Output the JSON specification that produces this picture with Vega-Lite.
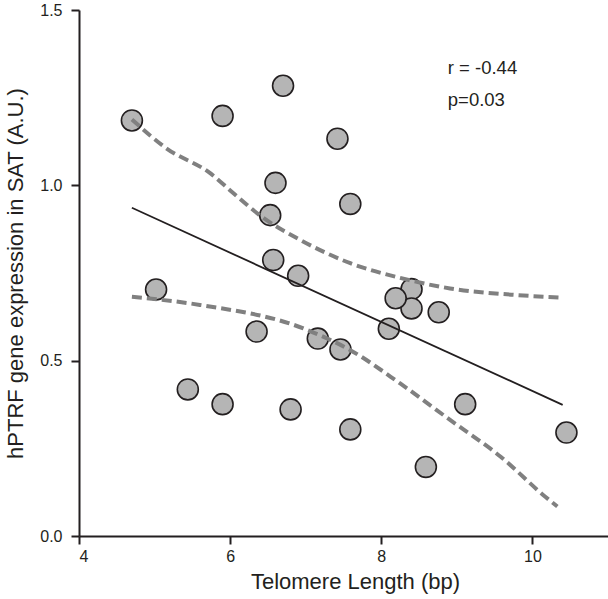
{
  "$schema": "https://vega.github.io/schema/vega-lite/v6.json",
  "width": 529,
  "height": 526,
  "autosize": {"type": "none"},
  "padding": {"left": 79, "top": 10, "right": 0, "bottom": 63},
  "background": "white",
  "config": {
    "view": {"stroke": null}
  },
  "datasets": {
    "points": [
      {"telomere": 4.70, "ptrf": 1.185},
      {"telomere": 5.90, "ptrf": 1.198},
      {"telomere": 6.70, "ptrf": 1.284},
      {"telomere": 7.42, "ptrf": 1.133},
      {"telomere": 6.60, "ptrf": 1.007},
      {"telomere": 6.53, "ptrf": 0.915},
      {"telomere": 7.59, "ptrf": 0.947},
      {"telomere": 6.57, "ptrf": 0.787},
      {"telomere": 6.90, "ptrf": 0.742},
      {"telomere": 5.02, "ptrf": 0.703},
      {"telomere": 8.40, "ptrf": 0.704},
      {"telomere": 8.40, "ptrf": 0.649},
      {"telomere": 8.19, "ptrf": 0.678},
      {"telomere": 8.76, "ptrf": 0.638},
      {"telomere": 8.10, "ptrf": 0.591},
      {"telomere": 7.16, "ptrf": 0.563},
      {"telomere": 7.46, "ptrf": 0.532},
      {"telomere": 6.35, "ptrf": 0.583},
      {"telomere": 5.44, "ptrf": 0.418},
      {"telomere": 5.90, "ptrf": 0.376},
      {"telomere": 6.80, "ptrf": 0.361},
      {"telomere": 9.11, "ptrf": 0.376},
      {"telomere": 7.59, "ptrf": 0.304},
      {"telomere": 8.59, "ptrf": 0.197},
      {"telomere": 10.45, "ptrf": 0.295}
    ],
    "ci": [
      {"band": "upper", "telomere": 4.70, "ptrf": 1.188},
      {"band": "upper", "telomere": 5.16, "ptrf": 1.105},
      {"band": "upper", "telomere": 5.74, "ptrf": 1.034},
      {"band": "upper", "telomere": 6.04, "ptrf": 0.978},
      {"band": "upper", "telomere": 6.44, "ptrf": 0.907},
      {"band": "upper", "telomere": 6.93, "ptrf": 0.844},
      {"band": "upper", "telomere": 7.59, "ptrf": 0.778},
      {"band": "upper", "telomere": 8.25, "ptrf": 0.736},
      {"band": "upper", "telomere": 8.91, "ptrf": 0.706},
      {"band": "upper", "telomere": 9.80, "ptrf": 0.687},
      {"band": "upper", "telomere": 10.39, "ptrf": 0.680},
      {"band": "lower", "telomere": 4.70, "ptrf": 0.682},
      {"band": "lower", "telomere": 5.60, "ptrf": 0.659},
      {"band": "lower", "telomere": 6.97, "ptrf": 0.592},
      {"band": "lower", "telomere": 7.59, "ptrf": 0.530},
      {"band": "lower", "telomere": 8.25, "ptrf": 0.435},
      {"band": "lower", "telomere": 8.91, "ptrf": 0.331},
      {"band": "lower", "telomere": 9.58, "ptrf": 0.226},
      {"band": "lower", "telomere": 10.17, "ptrf": 0.112},
      {"band": "lower", "telomere": 10.33, "ptrf": 0.084}
    ],
    "fit": [
      {"telomere": 4.70, "ptrf": 0.936},
      {"telomere": 10.40, "ptrf": 0.374}
    ],
    "notes": [
      {"telomere": 8.88, "ptrf": 1.317, "label": "r = -0.44"},
      {"telomere": 8.88, "ptrf": 1.227, "label": "p=0.03"}
    ]
  },
  "encoding": {
    "x": {
      "field": "telomere",
      "type": "quantitative",
      "scale": {"domain": [4, 11], "nice": false, "zero": false},
      "axis": {
        "title": "Telomere Length (bp)", "values": [4, 6, 8, 10],
        "grid": false, "domainColor": "#231f20", "domainWidth": 2,
        "ticks": true, "tickColor": "#231f20", "tickWidth": 2, "tickSize": 8,
        "labelFontSize": 16, "labelColor": "#231f20", "labelPadding": 4,
        "titleFont": "Liberation Sans", "titleFontSize": 22, "titleFontWeight": "normal", "titleColor": "#231f20",
        "titlePadding": 7, "titleX": 276
      }
    },
    "y": {
      "field": "ptrf",
      "type": "quantitative",
      "scale": {"domain": [0, 1.5], "nice": false},
      "axis": {
        "title": "hPTRF gene expression in SAT (A.U.)", "values": [0, 0.5, 1, 1.5], "format": ".1f",
        "grid": false, "domainColor": "#231f20", "domainWidth": 2,
        "ticks": true, "tickColor": "#231f20", "tickWidth": 2, "tickSize": 8,
        "labelFontSize": 16, "labelColor": "#231f20", "labelPadding": 9,
        "titleFont": "Liberation Sans", "titleFontSize": 22, "titleFontWeight": "normal", "titleColor": "#231f20",
        "titlePadding": 12
      }
    }
  },
  "layer": [
    {
      "data": {"name": "points"},
      "mark": {"type": "point", "shape": "circle", "filled": true, "size": 440, "fill": "#b5b5b5", "stroke": "#231f20", "strokeWidth": 1.6, "opacity": 1}
    },
    {
      "data": {"name": "ci"},
      "mark": {"type": "line", "interpolate": "monotone", "color": "#808080", "strokeWidth": 4, "strokeDash": [10, 5]},
      "encoding": {"detail": {"field": "band"}}
    },
    {
      "data": {"name": "fit"},
      "mark": {"type": "line", "color": "#231f20", "strokeWidth": 1.8}
    },
    {
      "data": {"name": "notes"},
      "mark": {"type": "text", "align": "left", "baseline": "alphabetic", "fontSize": 18.5, "font": "Liberation Sans", "color": "#231f20"},
      "encoding": {"text": {"field": "label"}}
    }
  ]
}
